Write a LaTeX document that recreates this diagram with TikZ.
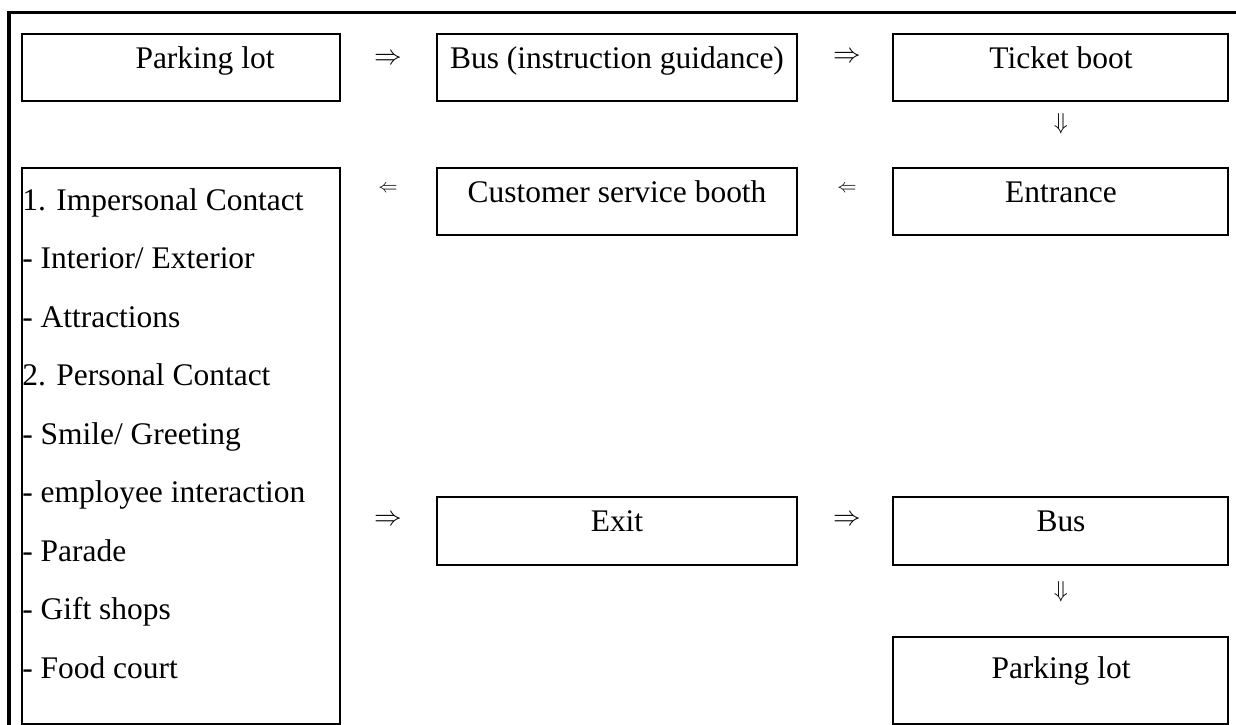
\documentclass[tikz,border=0pt]{standalone}
\usepackage{fontspec}
\setmainfont{Liberation Serif}
\begin{document}
\begin{tikzpicture}[x=0.75pt,y=-0.75pt,
  box/.style={draw, line width=1.2pt},
  lbl/.style={font=\fontsize{23.6}{28}\selectfont, inner sep=0pt, anchor=base},
  lst/.style={font=\fontsize{23.6}{28}\selectfont, inner sep=0pt, anchor=base west},
  bigsym/.style={font=\fontsize{20}{24}\selectfont, inner sep=0pt},
  smallsym/.style={font=\fontsize{15}{18}\selectfont, inner sep=0pt},
  dsym/.style={font=\fontsize{19}{22}\selectfont, inner sep=0pt}]
\useasboundingbox (0,0) rectangle (1236,725);
% outer frame (only top and left visible)
\draw[line width=2.4pt] (9,725) -- (9,12.5) -- (1236,12.5);
% boxes
\draw[box] (22,34) rectangle (340,101);
\draw[box] (437,34) rectangle (797,101);
\draw[box] (893,34) rectangle (1228,101);
\draw[box] (22,168) rectangle (340,724);
\draw[box] (437,168) rectangle (797,235);
\draw[box] (893,168) rectangle (1228,235);
\draw[box] (437,497) rectangle (797,565);
\draw[box] (893,497) rectangle (1228,565);
\draw[box] (893,637) rectangle (1228,724);
% labels
\node[lbl] (p1) at (205,68) {Parking lot};
\node[lbl] (bus1) at (617,68) {Bus (instruction guidance)};
\node[lbl] (tick) at (1061,68) {Ticket boot};
\node[lbl] (cust) at (617,202) {Customer service booth};
\node[lbl] (entr) at (1061,202) {Entrance};
\node[lbl] (exit) at (617,531) {Exit};
\node[lbl] (bus2) at (1061,531) {Bus};
\node[lbl] (p2) at (1061,678) {Parking lot};
% list
\node[lst] (l1) at (22,210) {1. Impersonal Contact};
\node[lst] (l2) at (22,268.5) {- Interior/ Exterior};
\node[lst] (l3) at (22,327) {- Attractions};
\node[lst] (l4) at (22,385.5) {2. Personal Contact};
\node[lst] (l5) at (22,444) {- Smile/ Greeting};
\node[lst] (l6) at (22,502.5) {- employee interaction};
\node[lst] (l7) at (22,561) {- Parade};
\node[lst] (l8) at (22,619.5) {- Gift shops};
\node[lst] (l9) at (22,678) {- Food court};
% arrow symbols
\node[bigsym] (a1) at (388,59) {$\Rightarrow$};
\node[bigsym] (a2) at (847,57) {$\Rightarrow$};
\node[dsym] (a3) at (1061,124) {$\Downarrow$};
\node[smallsym] (a4) at (847,189) {$\Leftarrow$};
\node[smallsym] (a5) at (388,189) {$\Leftarrow$};
\node[bigsym] (a6) at (388,520) {$\Rightarrow$};
\node[bigsym] (a7) at (847,520) {$\Rightarrow$};
\node[dsym] (a8) at (1061,592) {$\Downarrow$};
\end{tikzpicture}
\end{document}
